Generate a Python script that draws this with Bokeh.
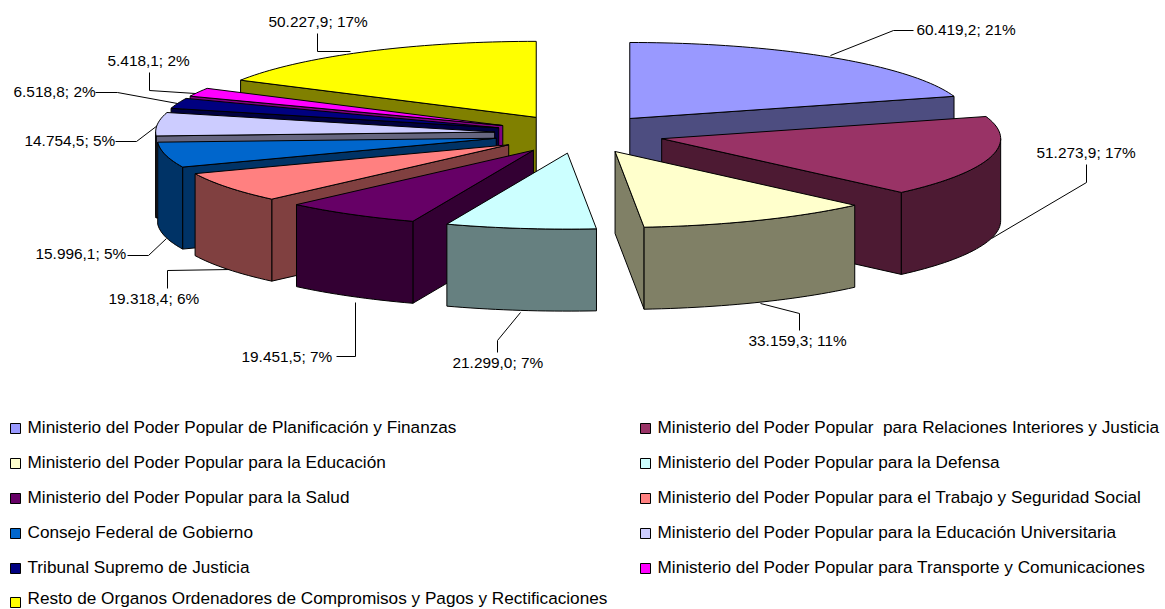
import math
from bokeh.plotting import figure
from bokeh.models import Range1d
from bokeh.core.properties import value
from bokeh.embed import file_html
from bokeh.resources import INLINE

# ---- data ----
categories = [
    "Ministerio del Poder Popular de Planificación y Finanzas",
    "Ministerio del Poder Popular\u00a0 para Relaciones Interiores y Justicia",
    "Ministerio del Poder Popular para la Educación",
    "Ministerio del Poder Popular para la Defensa",
    "Ministerio del Poder Popular para la Salud",
    "Ministerio del Poder Popular para el Trabajo y Seguridad Social",
    "Consejo Federal de Gobierno",
    "Ministerio del Poder Popular para la Educación Universitaria",
    "Tribunal Supremo de Justicia",
    "Ministerio del Poder Popular para Transporte y Comunicaciones",
    "Resto de Organos Ordenadores de Compromisos y Pagos y Rectificaciones",
]
amounts = [60419.2, 51273.9, 33159.3, 21299.0, 19451.5, 19318.4, 15996.1, 14754.5, 6518.8, 5418.1, 50227.9]
percent_labels = [21, 17, 11, 7, 7, 6, 5, 5, 2, 2, 17]
top_colors = ["#9999FF", "#993366", "#FFFFCC", "#CCFFFF", "#660066", "#FF8080",
              "#0066CC", "#CCCCFF", "#000080", "#FF00FF", "#FFFF00"]
side_colors = ["#4D4D80", "#4D1A33", "#808066", "#668080", "#330033", "#804040",
               "#003366", "#666680", "#000040", "#800080", "#808000"]

# ---- 3D pie projection ----
CX, CY = 578.7, 133.5
RX, RY = 339.0, 76.0
EX, EY = 85.0, 19.3
DEPTH = 82.0
FONT = value("Liberation Sans")
INK = "#000000"


def fmt(v):
    return f"{v:,.1f}".replace(",", "§").replace(".", ",").replace("§", ".")


total = sum(amounts)
bounds = [0.0]
for a in amounts:
    bounds.append(bounds[-1] + a / total * 360.0)


def rim(apex, deg):
    t = math.radians(deg)
    return apex[0] + RX * math.sin(t), apex[1] - RY * math.cos(t)


def arc_points(apex, a, b):
    n = max(2, int(abs(b - a) / 1.5) + 2)
    return [rim(apex, a + (b - a) * i / (n - 1)) for i in range(n)]


xs, ys, fills = [], [], []


def add_face(pts, color):
    xs.append([q[0] for q in pts])
    ys.append([q[1] for q in pts])
    fills.append(color)


def down(pts):
    return [(q[0], q[1] + DEPTH) for q in pts]


draw_order = [0, 1, 2, 10, 9, 8, 7, 6, 5, 4, 3]
for i in draw_order:
    a, b = bounds[i], bounds[i + 1]
    mid = math.radians((a + b) / 2)
    apex = (CX + EX * math.sin(mid), CY - EY * math.cos(mid))
    side = side_colors[i]
    if math.sin(math.radians(a)) < 0:
        e = [apex, rim(apex, a)]
        add_face(e + down(e)[::-1], side)
    if math.sin(math.radians(b)) > 0:
        e = [apex, rim(apex, b)]
        add_face(e + down(e)[::-1], side)
    lo, hi = max(a, 90.0), min(b, 270.0)
    if lo < hi:
        arc = arc_points(apex, lo, hi)
        add_face(arc + down(arc)[::-1], side)
    add_face([apex] + arc_points(apex, a, b), top_colors[i])

p = figure(width=1165, height=609, output_backend="svg", toolbar_location=None,
           x_range=Range1d(0, 1165), y_range=Range1d(609, 0), min_border=0,
           outline_line_color=None, background_fill_color="white", border_fill_color="white")
p.xaxis.visible = False
p.yaxis.visible = False
p.xgrid.visible = False
p.ygrid.visible = False

# leader lines sit underneath the pie
leaders = [
    [(830, 55), (893, 30), (913, 30)],
    [(991, 238), (1086, 182), (1086, 164)],
    [(760, 303), (799, 313), (799, 330)],
    [(520, 312), (497, 340), (497, 352)],
    [(355, 302), (355, 356), (336, 356)],
    [(230, 269), (167, 270), (167, 288)],
    [(166, 238), (148, 255), (127, 255)],
    [(157, 125), (136, 141), (115, 141)],
    [(177, 103), (117, 92), (95, 92)],
    [(195, 93), (149, 90), (149, 72)],
    [(350, 51), (317, 51), (317, 33)],
]
p.multi_line([[q[0] for q in l] for l in leaders], [[q[1] for q in l] for l in leaders],
             line_color=INK, line_width=1)

p.patches(xs, ys, fill_color=fills, line_color=INK, line_width=1, line_join="round")

# data labels
label_left = [916, 1036, 748, 452, 241, 108, 35, 24, 13, 107, 268]
label_y = [28.5, 152, 339.5, 362, 355.5, 298, 253, 140, 91, 60, 21]
p.text(label_left, label_y,
       text=[f"{fmt(v)}; {q}%" for v, q in zip(amounts, percent_labels)],
       text_font=FONT, text_font_size="15.4px", text_color=INK,
       text_align="left", text_baseline="middle")

# legend
rows = [428, 463, 498, 533, 568, 602]
text_rows = [426.5, 461.5, 496.5, 531.5, 566.5, 597.5]
lx, ly, lty, lt = [], [], [], []
for i, name in enumerate(categories):
    lx.append(10 if i % 2 == 0 else 640)
    ly.append(rows[i // 2])
    lty.append(text_rows[i // 2])
    lt.append(name)
p.quad(left=[x for x in lx], right=[x + 10 for x in lx],
       top=[y - 5 for y in ly], bottom=[y + 5 for y in ly],
       fill_color=top_colors, line_color=INK, line_width=1)
p.text([x + 17 for x in lx], lty, text=lt, text_font=FONT, text_font_size="17.2px",
       text_color=INK, text_align="left", text_baseline="middle")

open("out.html", "w").write(file_html(p, INLINE))
